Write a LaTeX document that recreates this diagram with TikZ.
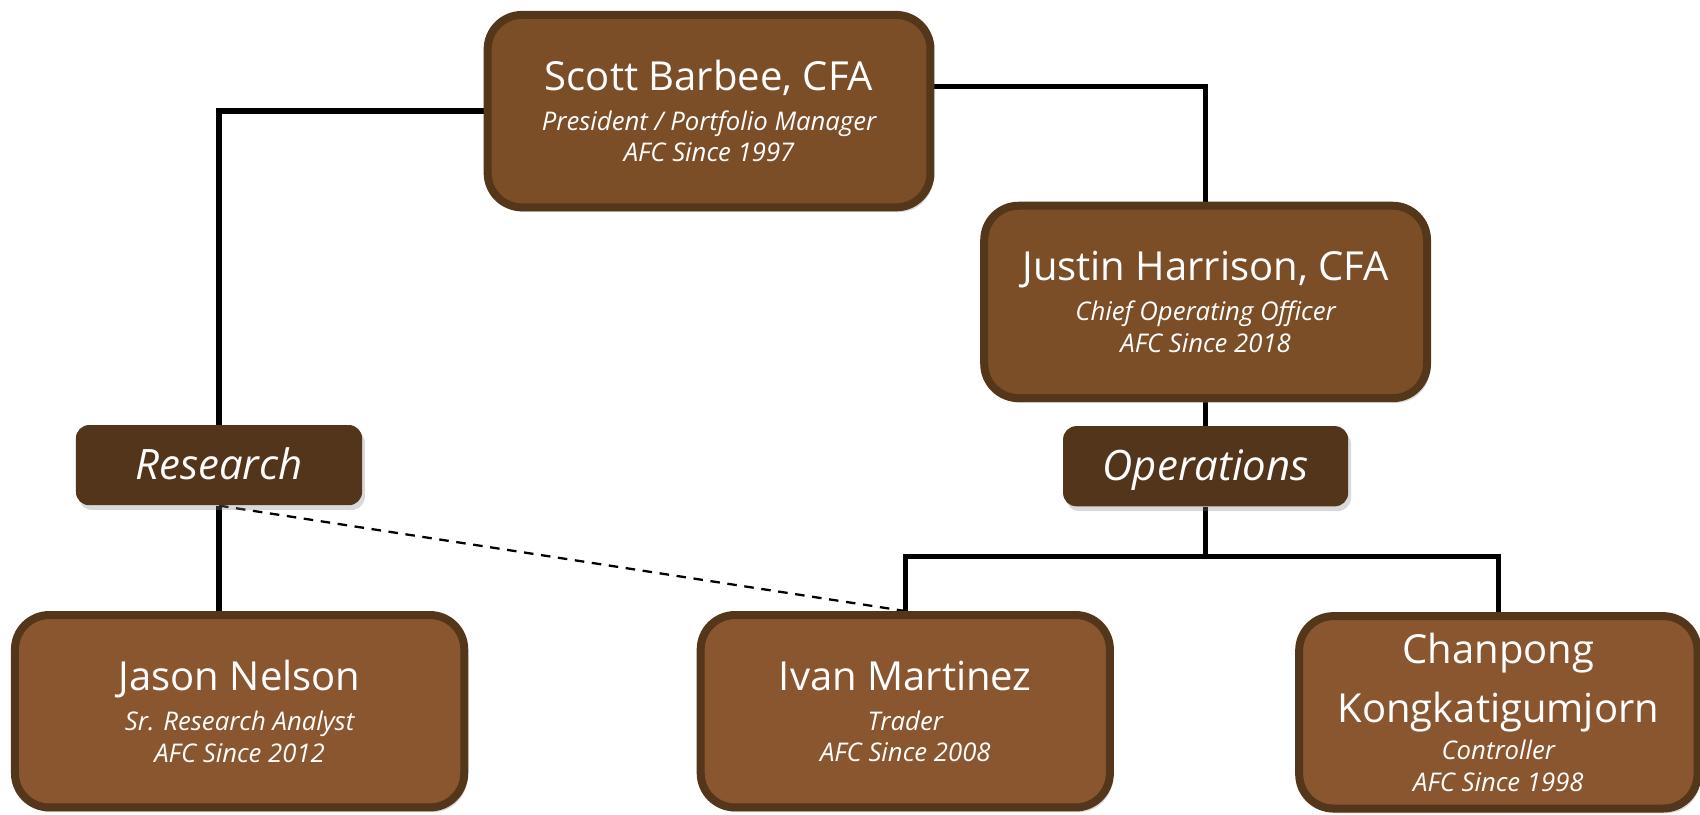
\documentclass[tikz,border=0pt]{standalone}
\usepackage{fontspec}
\setmainfont{Open Sans}
\usetikzlibrary{shadows,backgrounds}
\definecolor{chiefbrown}{HTML}{7B4E27}
\definecolor{staffbrown}{HTML}{8A5630}
\definecolor{rimbrown}{HTML}{54361A}
\definecolor{deptbrown}{HTML}{52351A}
\newcommand{\pname}{\fontsize{21}{25}\selectfont\upshape}
\newcommand{\prole}{\fontsize{13.5}{16.5}\selectfont\itshape}
\newcommand{\orgperson}[5] {\node at (#1) (#2) [person, fill=#4, minimum width=#3] {#5};}
\newcommand{\orgdept}[4] {\node at (#1) (#2) [dept, minimum width=#3] {#4};}
\newcommand{\orglink}[2] {\draw [link] (#1) -- (#2);}
\newcommand{\orgelbow}[2] {\draw [link] (#1) -| (#2);}

\begin{document}
\begin{tikzpicture}[x=0.02cm, y=-0.02cm,
  person/.style={rectangle, rounded corners=18pt, draw=rimbrown, line width=4.2pt, text=white, align=center, font=\prole, minimum height=3.55cm, inner sep=2pt, drop shadow={opacity=0.3, shadow xshift=1.5pt, shadow yshift=-2.5pt}},
  dept/.style={rectangle, rounded corners=7pt, fill=deptbrown, text=white, minimum height=1.48cm, text height=16pt, text depth=0.5pt, font=\fontsize{22}{26}\selectfont\itshape, drop shadow={opacity=0.3, shadow xshift=1.5pt, shadow yshift=-2.5pt}},
  link/.style={line width=2.8pt},
  dashlink/.style={line width=1.2pt, dash pattern=on 5pt off 4pt}]
\useasboundingbox (0,0) rectangle (1568,751);

\orgperson {654,102.5} {scott} {8.17cm} {chiefbrown} {\pname Scott Barbee, CFA\\[4.5pt]President / Portfolio Manager\\AFC Since 1997};
\orgperson {1112,278.5} {justin} {8.17cm} {chiefbrown} {\pname Justin Harrison, CFA\\[4.5pt]Chief Operating Officer\\AFC Since 2018};
\orgdept {202,429} {research} {5.28cm} {Research};
\orgdept {1112,430} {ops} {5.26cm} {Operations};
\orgperson {221,656} {jason} {8.29cm} {staffbrown} {\pname Jason Nelson\\[4.5pt]Sr. Research Analyst\\AFC Since 2012};
\orgperson {835,656} {ivan} {7.55cm} {staffbrown} {\pname Ivan Martinez\\[4.5pt]Trader\\AFC Since 2008};
\orgperson {1382,657} {chanpong} {7.35cm} {staffbrown} {\pname Chanpong\\[9pt]\pname Kongkatigumjorn\\[3pt]Controller\\AFC Since 1998};

\begin{scope}[on background layer]
\coordinate (opsbus) at (1112,513);
\orgelbow{scott.west}{research.north};
\orgelbow{[yshift=13pt]scott.east}{justin.north};
\orglink{justin.south}{ops.north};
\orglink{ops.south}{opsbus};
\orgelbow{opsbus}{ivan.north};
\orgelbow{opsbus}{chanpong.north};
\orglink{research.south}{research.south |- jason.north};
\draw [dashlink] (research.south) -- (ivan.north);
\end{scope}

\end{tikzpicture}
\end{document}
